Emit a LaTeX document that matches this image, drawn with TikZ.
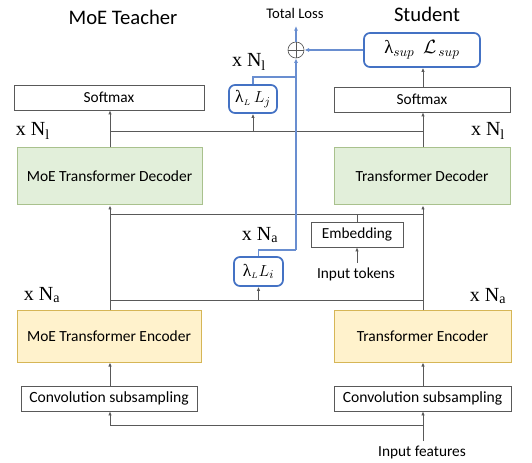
\documentclass[tikz,border=0pt]{standalone}
\usepackage{fontspec}
\setmainfont{Carlito}
\newfontfamily\serifx{Liberation Serif}
\usetikzlibrary{arrows.meta}
\definecolor{lgray}{HTML}{595959}
\definecolor{bblue}{HTML}{4472C4}
\definecolor{gfill}{HTML}{E2EFDA}
\definecolor{gline}{HTML}{A9C18D}
\definecolor{yfill}{HTML}{FFF2CC}
\definecolor{yline}{HTML}{D6B656}
\newcommand{\lamx}{{\serifx λ}}
\begin{document}
\begin{tikzpicture}[x=0.75pt,y=-0.75pt,
  plain/.style={draw=lgray,line width=0.6pt,fill=white,inner sep=0pt,font=\fontsize{11.5}{13}\selectfont},
  greenbox/.style={draw=gline,line width=0.75pt,fill=gfill,inner sep=0pt,font=\fontsize{11.6}{13}\selectfont},
  yellowbox/.style={draw=yline,line width=0.75pt,fill=yfill,inner sep=0pt,font=\fontsize{11.6}{13}\selectfont},
  lossbox/.style={draw=bblue,line width=1.3pt,rounded corners=4.5pt,fill=white,inner sep=0pt},
  conn/.style={draw=lgray,line width=0.6pt},
  arr/.style={conn,-{Latex[length=3pt,width=2.6pt]},shorten >=0pt},
  bconn/.style={draw=bblue!80,line width=1pt},
  barr/.style={bconn,-{Latex[length=3.5pt,width=3pt]}},
  mult/.style={font=\serifx\fontsize{15}{17}\selectfont,inner sep=0pt},
  title/.style={font=\fontsize{15.5}{18}\selectfont,inner sep=0pt}
]
\useasboundingbox (0,0) rectangle (532,463);
\coordinate (tx) at (110,0);
\coordinate (sx) at (423,0);
% titles
\node[title] (tt) at (123,17) {MoE Teacher};
\node[title] (st) at (427,14) {Student};
\node[inner sep=0pt,font=\fontsize{11}{12}\selectfont] (tl) at (295,13) {Total Loss};
% loss nodes
\node[draw=lgray,line width=0.5pt,circle,minimum size=12pt,inner sep=0pt] (op) at (296,50) {};
\draw[lgray,line width=0.5pt] (op.north) -- (op.south) (op.west) -- (op.east);
\node[lossbox,minimum width=87pt,minimum height=25.5pt,font=\fontsize{14}{16}\selectfont] (ls) at (422,50) {\lamx$_{sup}$\ \ $\mathcal{L}_{\,sup}$};
\node[lossbox,minimum width=36pt,minimum height=21pt,font=\fontsize{13}{15}\selectfont] (lj) at (253,99) {\lamx$_{\scriptscriptstyle L}$\,$L_j$};
\node[lossbox,minimum width=36.75pt,minimum height=21.75pt,font=\fontsize{13}{15}\selectfont] (li) at (258.5,271.5) {\lamx$_{\scriptscriptstyle L}L_i$};
% softmax
\node[plain,minimum width=142.5pt,minimum height=18.75pt] (smL) at (109,97.5) {Softmax};
\node[plain,minimum width=132pt,minimum height=18.75pt] (smR) at (422,99.5) {Softmax};
% decoders
\node[greenbox,minimum width=138.75pt,minimum height=42.75pt] (decL) at (109.5,176.5) {MoE Transformer Decoder};
\node[greenbox,minimum width=132pt,minimum height=42.75pt] (decR) at (422,176.5) {Transformer Decoder};
% embedding
\node[plain,minimum width=69pt,minimum height=18.75pt] (emb) at (357,234.5) {Embedding};
\node[inner sep=0pt,font=\fontsize{11.5}{13}\selectfont] (it) at (356,274) {Input tokens};
% encoders
\node[yellowbox,minimum width=138pt,minimum height=38.25pt] (encL) at (109,336.5) {MoE Transformer Encoder};
\node[yellowbox,minimum width=132.75pt,minimum height=38.25pt] (encR) at (422.5,336.5) {Transformer Encoder};
% conv
\node[plain,font=\fontsize{11.7}{13}\selectfont,minimum width=132pt,minimum height=18.75pt] (cvL) at (109,398.5) {Convolution subsampling};
\node[plain,font=\fontsize{11.7}{13}\selectfont,minimum width=132.75pt,minimum height=18.75pt] (cvR) at (422.5,398.5) {Convolution subsampling};
\node[inner sep=0pt,font=\fontsize{11.5}{13}\selectfont] (if) at (422,452) {Input features};
% multiplicity labels
\node[mult] (m1) at (249,62) {x N\textsubscript{l}};
\node[mult] (m2) at (33,131) {x N\textsubscript{l}};
\node[mult] (m3) at (488,131) {x N\textsubscript{l}};
\node[mult] (m4) at (260,235) {x N\textsubscript{a}};
\node[mult] (m5) at (42,295) {x N\textsubscript{a}};
\node[mult] (m6) at (488,296) {x N\textsubscript{a}};
% coordinates of buses
\coordinate (b1) at (0,131);
\coordinate (b2) at (0,214);
\coordinate (b3) at (0,300);
\coordinate (b4) at (0,425);
\coordinate (ifx) at (423,441);
\coordinate (itx) at (357,263);
\coordinate (tlb) at (296,26);
\coordinate (jb) at (0,77);
\coordinate (ib) at (0,250);
% bottom
\draw[conn] (ifx) -- (b4 -| sx) -- (b4 -| tx);
\draw[arr] (b4 -| sx) -- (cvR.south -| sx);
\draw[arr] (b4 -| tx) -- (cvL.south -| tx);
\draw[arr] (cvL.north -| tx) -- (encL.south -| tx);
\draw[arr] (cvR.north -| sx) -- (encR.south -| sx);
% encoder outputs
\draw[arr] (encL.north -| tx) -- (decL.south -| tx);
\draw[arr] (encR.north -| sx) -- (decR.south -| sx);
\draw[conn] (b3 -| tx) -- (b3 -| sx);
\draw[conn] (b2 -| tx) -- (b2 -| sx);
\draw[arr] (b3 -| li.south) -- (li.south);
\draw[conn] (emb.north) -- (b2 -| emb.north);
\draw[arr] (itx) -- (emb.south);
% decoder outputs
\draw[arr] (decL.north -| tx) -- (smL.south -| tx);
\draw[arr] (decR.north -| sx) -- (smR.south -| sx);
\draw[conn] (b1 -| tx) -- (b1 -| sx);
\draw[arr] (b1 -| lj.south) -- (lj.south);
\draw[arr] (smR.north -| sx) -- (ls.south -| sx);
% blue loss paths
\draw[bconn] (li.north) -- (ib -| li.north) -- (ib -| op.south);
\draw[barr] (ib -| op.south) -- (op.south);
\draw[bconn] (lj.north) -- (jb -| lj.north) -- (jb -| op.south);
\draw[barr] (ls.west) -- (op.east);
\draw[barr] (op.north) -- (tlb);
\end{tikzpicture}
\end{document}
